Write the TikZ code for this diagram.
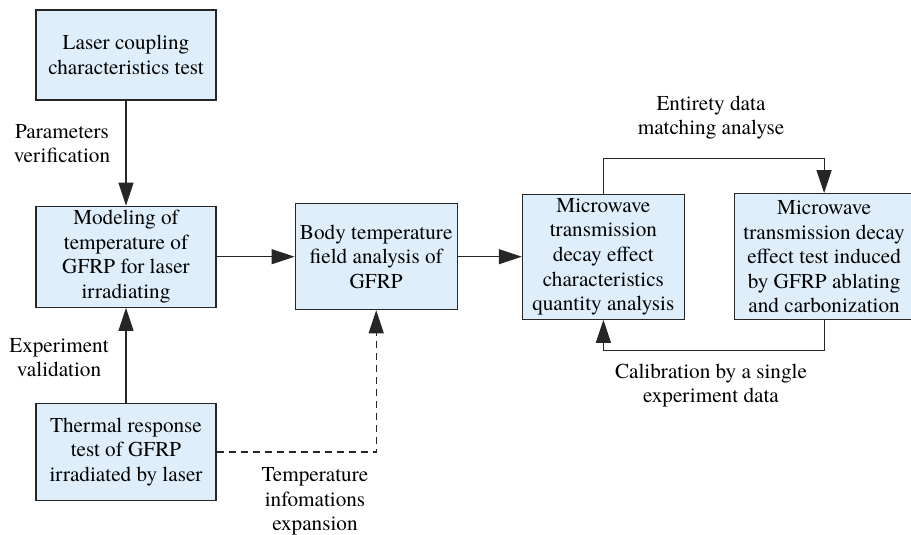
\documentclass[tikz,border=0pt]{standalone}
\usepackage{fontspec}
\IfFontExistsTF{texgyretermes-regular.otf}{%
  \setmainfont{texgyretermes}[Extension=.otf, UprightFont=*-regular,
    BoldFont=*-bold, ItalicFont=*-italic, BoldItalicFont=*-bolditalic]%
}{%
  \setmainfont{Liberation Serif}%
}
\usepackage{tikz}
\usepackage{xcolor}
\usetikzlibrary{positioning, arrows.meta}

\definecolor{boxblue}{RGB}{222,238,251}

\begin{document}
\begin{tikzpicture}[
    node distance=39pt,
    box/.style={
        rectangle,
        draw=black!85,
        fill=boxblue,
        line width=0.6pt,
        inner sep=2pt,
        align=center,
        font=\fontsize{10.6}{12.3}\selectfont
    },
    flow/.style={
        draw=black!85,
        line width=0.6pt,
        -{Triangle[length=11.5pt,width=7.5pt]}
    },
    lbl/.style={
        align=center,
        font=\fontsize{10.6}{12.3}\selectfont
    }
]

\useasboundingbox (0,0) rectangle (455.5pt,-267.5pt);

\node[box, minimum width=90pt, minimum height=45pt] (laser) at (63pt,-27.5pt) {
Laser coupling\\characteristics test
};

\node[box, minimum width=90pt, minimum height=50.5pt, below=52.5pt of laser] (model) {
Modeling of\\temperature of\\GFRP for laser\\irradiating
};

\node[box, minimum width=90pt, minimum height=48.5pt, below=47.5pt of model] (thermal) {
Thermal response\\test of GFRP\\irradiated by laser
};

\node[box, minimum width=81pt, minimum height=53pt, right=39pt of model] (body) {
Body temperature\\field analysis of\\GFRP
};

\node[box, minimum width=81pt, minimum height=62.5pt, right=32pt of body] (micro) {
Microwave\\transmission\\decay effect\\characteristics\\quantity analysis
};

\node[box, minimum width=89.5pt, minimum height=63pt, right=24.5pt of micro] (decay) {
Microwave\\transmission decay\\effect test induced\\by GFRP ablating\\and carbonization
};

\node[lbl] (parlbl) at (31pt,-71.75pt) {Parameters\\verification};
\node[lbl] (explbl) at (29.5pt,-178.75pt) {Experiment\\validation};
\node[lbl] (templbl) at (157.5pt,-250.75pt) {Temperature\\infomations\\expansion};
\node[lbl] (entlbl) at (355.5pt,-58.75pt) {Entirety data\\matching analyse};
\node[lbl] (callbl) at (355.5pt,-192.75pt) {Calibration by a single\\experiment data};

\draw[flow] (laser) -- (model);
\draw[flow] (thermal) -- (model);
\draw[flow] (model) -- (body);
\draw[flow] (body) -- (micro);
\draw[flow] (micro.north) -- ++(0,17.5pt) -| (decay.north);
\draw[flow] (decay.south) -- ++(0,-15pt) -| (micro.south);
\draw[flow, dash pattern=on 3.5pt off 2.5pt] (thermal.east) -| (body.south);

\end{tikzpicture}
\end{document}
